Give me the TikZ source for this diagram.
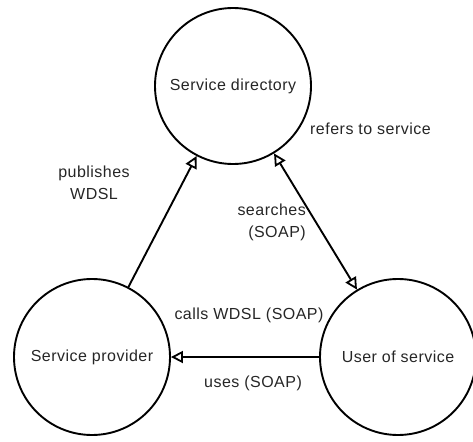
\documentclass[tikz,border=0pt]{standalone}
\usepackage{fontspec}
\setmainfont[LetterSpace=3]{Liberation Sans}
\usetikzlibrary{arrows.meta}
\begin{document}
\begin{tikzpicture}[x=1pt,y=-1pt,
  tip/.style={},
  actor/.style={draw, circle, line width=1.9pt, minimum size=156pt, inner sep=0pt,
    font=\fontsize{16}{19}\selectfont, text=black!85},
  lbl/.style={inner sep=0pt, text=black!85, font=\fontsize{16}{22}\selectfont},
  link/.style={line width=1.9pt, -{Triangle[open, length=12pt, width=12pt, line width=1.8pt]}},
  link2/.style={line width=1.9pt, {Triangle[open, length=12pt, width=12pt, line width=1.8pt]}-{Triangle[open, length=12pt, width=12pt, line width=1.8pt]}}]
  \useasboundingbox (0,0) rectangle (473,441);

  % the three parties
  \node[actor] (dir)  at (233,86)  {Service directory};
  \node[actor] (prov) at (92,357)  {Service provider};
  \node[actor] (user) at (398,357) {User of service};

  % interactions
  \draw[link]  (prov) -- (dir);
  \draw[link2] (dir) -- (user);
  \draw[link]  (user) -- (prov);

  % labels
  \node[lbl, align=center] (lpub) at (94,183) {publishes\\WDSL};
  \node[lbl, anchor=west] (lref) at (310,129) {refers to service};
  \node[lbl, align=right, anchor=east] (lsearch) at (306,222) {searches\\(SOAP)};
  \node[lbl] (lcalls) at (249,315) {calls WDSL (SOAP)};
  \node[lbl] (luses) at (253,383) {uses (SOAP)};
\end{tikzpicture}
\end{document}
